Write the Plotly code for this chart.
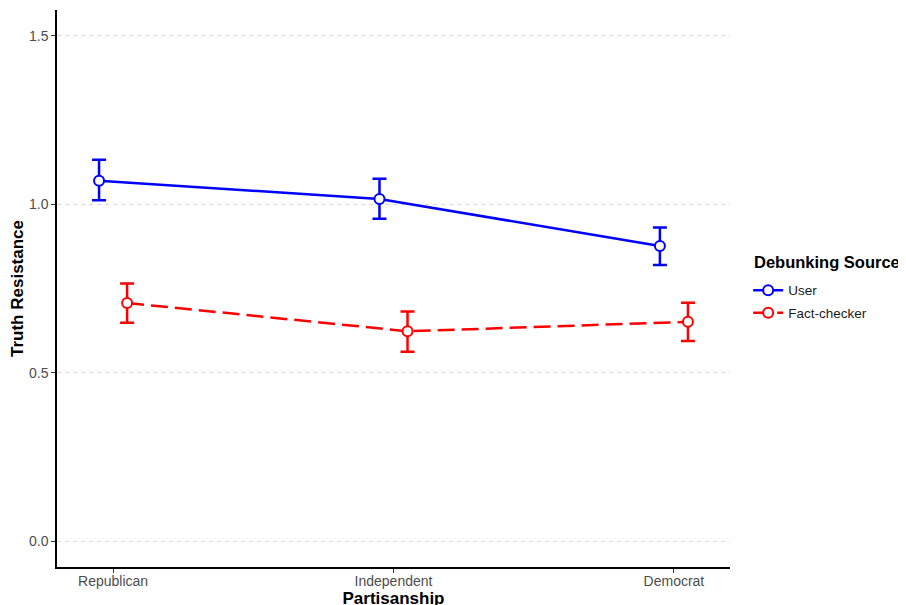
import plotly.graph_objects as go

categories = ["Republican", "Independent", "Democrat"]
user_mean = [1.070, 1.016, 0.876]
user_upper = [1.132, 1.076, 0.931]
user_lower = [1.012, 0.957, 0.820]
fc_mean = [0.707, 0.623, 0.651]
fc_upper = [0.765, 0.682, 0.708]
fc_lower = [0.648, 0.562, 0.594]
y_ticks = [0.0, 0.5, 1.0, 1.5]
dodge = 0.05

xs = list(range(len(categories)))

fig = go.Figure()

def add_series(name, means, upper, lower, color, dash, offset):
    fig.add_trace(go.Scatter(
        x=[x + offset for x in xs], y=means, name=name,
        legendgroup=name,
        mode="lines+markers",
        line=dict(color=color, width=2.5, dash=dash),
        marker=dict(symbol="circle", size=10, color="white",
                    line=dict(color=color, width=2)),
        error_y=dict(type="data", symmetric=False,
                     array=[u - m for u, m in zip(upper, means)],
                     arrayminus=[m - l for m, l in zip(means, lower)],
                     color=color, thickness=2.5, width=7),
    ))

add_series("User", user_mean, user_upper, user_lower, "#0000FF", "solid", -dodge)
add_series("Fact-checker", fc_mean, fc_upper, fc_lower, "#FF0000", "17px,7px", dodge)

font = "Liberation Sans, Arial, sans-serif"
fig.update_layout(
    width=906, height=605,
    margin=dict(l=49, r=184, t=2, b=46, autoexpand=False),
    plot_bgcolor="white", paper_bgcolor="white",
    font=dict(family=font, color="#000000"),
    showlegend=True,
    legend=dict(
        x=1.027, xanchor="left", y=0.5244, yanchor="top",
        font=dict(size=13.5, family=font, color="#1a1a1a"),
        itemwidth=30, tracegroupgap=2,
    ),
    annotations=[dict(
        text="<b>Debunking Source</b>", xref="paper", yref="paper",
        x=1.033, y=0.5476, xanchor="left", yanchor="middle", showarrow=False,
        font=dict(size=16.5, family=font, color="black"),
    )],
    xaxis=dict(
        range=[-0.2, 2.2], tickmode="array", tickvals=xs, ticktext=categories,
        showgrid=False, zeroline=False, automargin=False,
        showline=True, linecolor="black", linewidth=1.5,
        ticks="outside", ticklen=4, tickcolor="#333333", tickwidth=1,
        ticklabelstandoff=-4,
        tickfont=dict(size=14, color="#4d4d4d", family=font),
        title=dict(text="<b>Partisanship</b>", font=dict(size=17, color="black", family=font), standoff=1),
    ),
    yaxis=dict(
        range=[-0.077, 1.577], tickmode="array", tickvals=y_ticks,
        ticktext=["0.0", "0.5", "1.0", "1.5"],
        showgrid=True, gridcolor="#d9d9d9", gridwidth=1, griddash="4px,4px",
        zeroline=False, automargin=False,
        showline=True, linecolor="black", linewidth=1.5,
        ticks="outside", ticklen=4, tickcolor="#333333", tickwidth=1,
        tickfont=dict(size=14, color="#4d4d4d", family=font),
        title=dict(text="<b>Truth Resistance</b>", font=dict(size=17, color="black", family=font), standoff=8),
    ),
)

fig.write_html("out.html")
